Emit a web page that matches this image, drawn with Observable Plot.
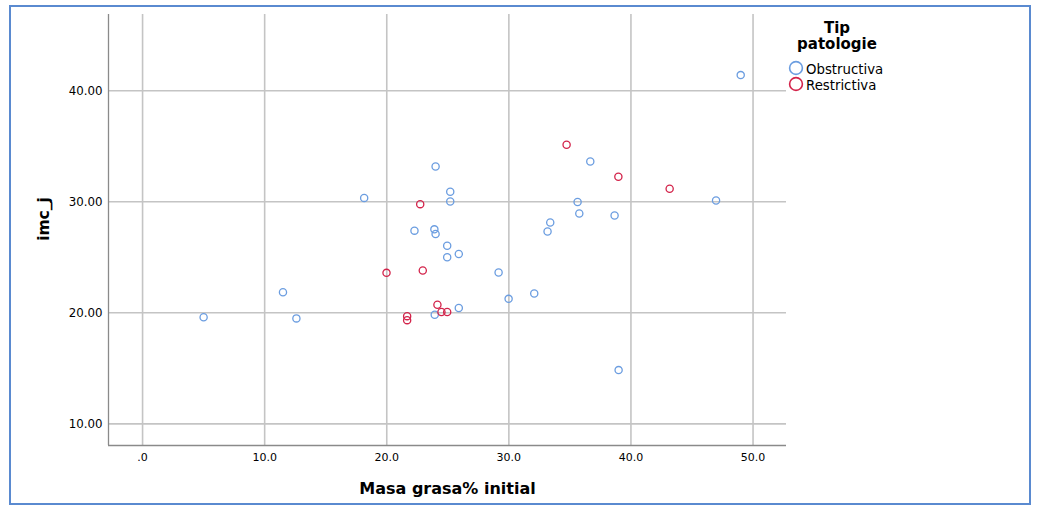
<!DOCTYPE html>
<html>
<head>
<meta charset="utf-8">
<script src="https://cdn.jsdelivr.net/npm/d3@7"></script>
<script src="https://cdn.jsdelivr.net/npm/@observablehq/plot@0.6"></script>
<style>
  html, body { margin: 0; padding: 0; background: #fff; }
  body { width: 1037px; height: 509px; position: relative; overflow: hidden; font-family: "DejaVu Sans", sans-serif; }
  #frame { position: absolute; left: 9px; top: 5px; width: 1022px; height: 500px; border: 2px solid #5a8ad0; box-sizing: border-box; pointer-events: none; }
  #chart { position: absolute; left: 0; top: 0; }
  #legend { position: absolute; left: 0; top: 0; width: 1037px; height: 509px; pointer-events: none; color: #000; }
  #legend .title { position: absolute; width: 120px; text-align: center; font-weight: bold; font-size: 15px; line-height: 16px; }
  #legend .item { position: absolute; font-size: 13.3px; line-height: 16px; }
  #legend svg { position: absolute; }
</style>
</head>
<body>
<div id="chart"></div>
<div id="legend"></div>
<div id="frame"></div>
<script>
// Categories and colours
const categories = ["Obstructiva", "Restrictiva"];
const categoryColors = ["#6b9de0", "#d3234a"];

// Obstructiva: Masa grasa% initial (x) and imc_j (y)
const obstructivaMasa = [5.0, 11.5, 12.6, 18.15, 22.27, 23.9, 24.0, 24.0, 23.93, 24.95, 24.95, 25.9, 25.9, 25.2, 25.2, 29.16, 29.98, 32.08, 33.17, 33.39, 35.63, 35.77, 36.67, 38.66, 38.99, 46.97, 48.99];
const obstructivaImc  = [19.6, 21.85, 19.5, 30.35, 27.4, 27.52, 27.1, 33.18, 19.82, 26.04, 25.0, 25.3, 20.43, 30.9, 30.03, 23.63, 21.26, 21.74, 27.33, 28.14, 29.98, 28.95, 33.63, 28.77, 14.84, 30.12, 41.41];

// Restrictiva
const restrictivaMasa = [19.98, 21.67, 21.67, 22.74, 22.95, 24.15, 24.48, 24.95, 34.73, 38.97, 43.17];
const restrictivaImc  = [23.6, 19.7, 19.34, 29.79, 23.81, 20.73, 20.07, 20.07, 35.14, 32.25, 31.17];

// Axis ticks and labels
const xTicks = [0, 10, 20, 30, 40, 50];
const xTickLabels = [".0", "10.0", "20.0", "30.0", "40.0", "50.0"];
const yTicks = [10, 20, 30, 40];
const yTickLabels = ["10.00", "20.00", "30.00", "40.00"];
const xTitle = "Masa grasa% initial";
const yTitle = "imc_j";
const legendTitle = ["Tip", "patologie"];

const xDomain = [-2.79, 52.74];
const yDomain = [8.05, 46.87];

const points = [
  ...obstructivaMasa.map((m, i) => ({masa: m, imc: obstructivaImc[i], tip: categories[0]})),
  ...restrictivaMasa.map((m, i) => ({masa: m, imc: restrictivaImc[i], tip: categories[1]}))
];

const chart = Plot.plot({
  width: 1037,
  height: 509,
  marginLeft: 108,
  marginRight: 251,
  marginTop: 14,
  marginBottom: 64,
  style: {fontFamily: "'DejaVu Sans', sans-serif", background: "transparent", color: "#000"},
  x: {domain: xDomain, label: null},
  y: {domain: yDomain, label: null},
  color: {domain: categories, range: categoryColors},
  marks: [
    Plot.gridX(xTicks, {stroke: "#c4c4c4", strokeOpacity: 1, strokeWidth: 1.6}),
    Plot.gridY(yTicks, {stroke: "#c4c4c4", strokeOpacity: 1, strokeWidth: 1.6}),
    Plot.ruleX([xDomain[0]], {stroke: "#8a8a8a", strokeWidth: 1.3}),
    Plot.ruleY([yDomain[0]], {stroke: "#8a8a8a", strokeWidth: 1.3}),
    Plot.axisX({ticks: xTicks, tickSize: 0, tickPadding: 8, fontSize: 11, label: null,
      tickFormat: d => xTickLabels[xTicks.indexOf(d)]}),
    Plot.axisY({ticks: yTicks, tickSize: 0, tickPadding: 6, fontSize: 11.8, label: null,
      tickFormat: d => yTickLabels[yTicks.indexOf(d)]}),
    Plot.text([xTitle], {frameAnchor: "bottom", dy: 43, textAnchor: "middle", lineAnchor: "middle",
      text: d => d, fontSize: 16, fontWeight: "bold"}),
    Plot.text([yTitle], {frameAnchor: "left", dx: -64, dy: -11, textAnchor: "middle", lineAnchor: "middle",
      rotate: -90, text: d => d, fontSize: 15.5, fontWeight: "bold"}),
    Plot.dot(points, {x: "masa", y: "imc", stroke: "tip", r: 3.6, strokeWidth: 1.3, fill: "none"})
  ]
});
document.getElementById("chart").append(chart);

// Legend
const legend = document.getElementById("legend");
legend.innerHTML =
  legendTitle.map((t, i) => `<div class="title" style="left:777px; top:${20 + i * 16}px">${t}</div>`).join("") +
  categories.map((c, i) => `<svg width="16" height="16" style="left:788px; top:${60 + i * 16}px"><circle cx="8" cy="8" r="6.4" fill="none" stroke="${categoryColors[i]}" stroke-width="1.6"/></svg>` +
    `<div class="item" style="left:806px; top:${62 + i * 16}px">${c}</div>`).join("");
</script>
</body>
</html>
